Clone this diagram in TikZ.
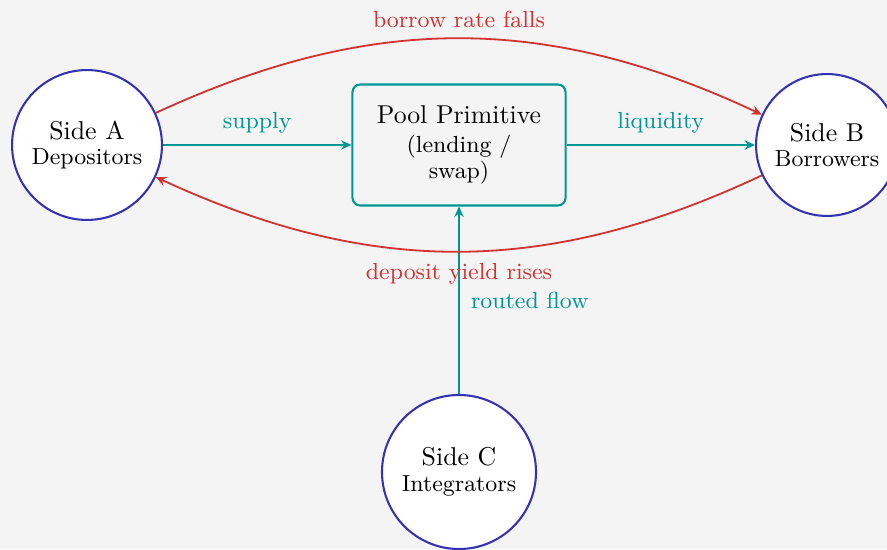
\documentclass[tikz,border=0pt]{standalone}
\usetikzlibrary{arrows.meta}
\definecolor{bgc}{HTML}{F4F4F4}
\definecolor{sideblue}{RGB}{51,51,178}
\definecolor{poolteal}{RGB}{0,150,150}
\definecolor{flowred}{RGB}{210,50,50}

\begin{document}
\begin{tikzpicture}[x=0.3876pt,y=0.3876pt,
  side/.style={circle,draw=sideblue,thick,fill=white,inner sep=0pt,align=center},
  pool/.style={rectangle,rounded corners=3pt,draw=poolteal,thick,
    minimum width=82.6pt,minimum height=46.9pt,align=center},
  flow/.style={-{Stealth[length=4pt,width=3.6pt]},poolteal,line width=0.7pt},
  feedback/.style={-{Stealth[length=4pt,width=3.6pt]},flowred,line width=0.7pt},
  flowlbl/.style={font=\small,text=poolteal},
  fblbl/.style={font=\small,text=flowred}
]
\path[use as bounding box, fill=bgc] (0,0) rectangle (887,549);

% participants and the shared pool
\node[side, minimum size=58.1pt] (A) at (87,404) {Side A\\[-2pt]{\small Depositors}};
\node[side, minimum size=55pt] (B) at (827,404) {Side B\\[-2pt]{\small Borrowers}};
\node[side, minimum size=59.7pt] (C) at (459,77) {Side C\\[-2pt]{\small Integrators}};
\node[pool] (P) at (459,404) {Pool Primitive\\[-1pt]{\small (lending /}\\[-2pt]{\small swap)}};

% routed flows into and out of the pool
\draw[flow] (A) -- node[flowlbl, above=1pt] {supply} (P);
\draw[flow] (P) -- node[flowlbl, above=1pt] {liquidity} (B);
\draw[flow] (C) -- node[flowlbl, right=1pt] {routed flow} (P);

% price feedback between the two sides
\draw[feedback] (A) to[bend left=25] node[fblbl, above=0.5pt] {borrow rate falls} (B);
\draw[feedback] (B) to[bend left=25] node[fblbl, below=1pt] {deposit yield rises} (A);
\end{tikzpicture}
\end{document}
